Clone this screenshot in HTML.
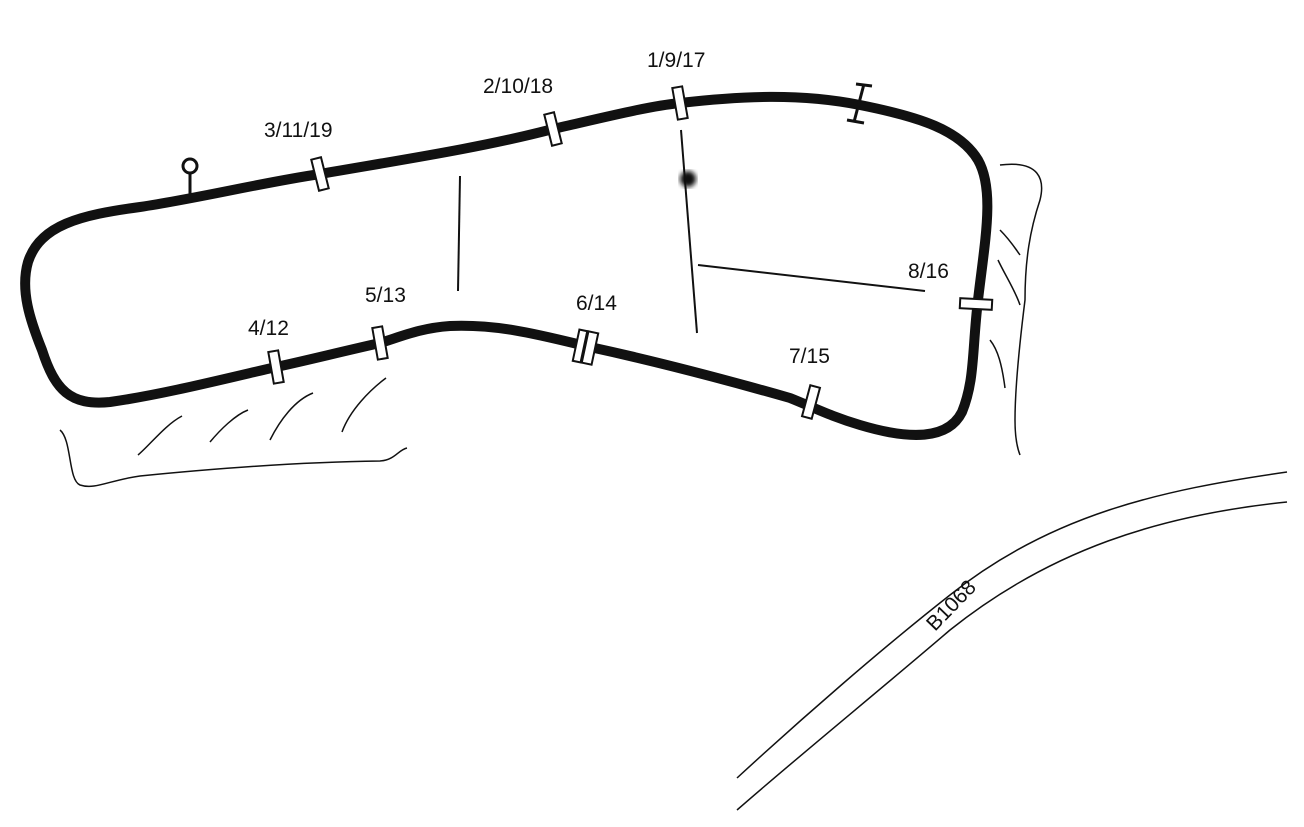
<!DOCTYPE html>
<html><head><meta charset="utf-8"><style>
html,body{margin:0;padding:0;background:#fff;}
svg{display:block;}
text{font-family:"Liberation Sans",sans-serif;font-size:21px;fill:#111;}
</style></head><body>
<svg width="1304" height="827" viewBox="0 0 1304 827" xmlns="http://www.w3.org/2000/svg">
<defs><filter id="b"><feGaussianBlur stdDeviation="2.5"/></filter></defs>
<path d="M28,262 C40,225 80,215 140,207 C200,198 260,183 320,174 C400,160 480,148 553,129 C610,116 650,106 680,103 C740,96 800,93 860,105 C920,117 960,130 978,160 C995,190 985,240 978,300 C972,350 975,380 962,412 C948,440 910,440 860,425 C830,416 815,408 790,398 C720,378 650,360 590,347 C540,335 500,324 450,326 C420,328 400,337 380,343 C340,352 300,362 276,367 C220,380 160,395 110,402 C70,406 55,390 42,350 C30,320 20,290 28,262 Z" fill="none" stroke="#111" stroke-width="10" stroke-linejoin="round"/>
<g stroke="#111" stroke-width="2" fill="none">
<line x1="460" y1="176" x2="458" y2="291"/>
<line x1="681" y1="130" x2="697" y2="333"/>
<line x1="698" y1="265" x2="925" y2="291"/>
</g>
<circle cx="688" cy="179" r="8" fill="#111" filter="url(#b)"/>
<g fill="#fff" stroke="#111" stroke-width="2">
<rect x="-5" y="-16" width="10" height="32" transform="translate(320,174) rotate(-14)"/>
<rect x="-5" y="-16" width="10" height="32" transform="translate(553,129) rotate(-14)"/>
<rect x="-5" y="-16" width="10" height="32" transform="translate(680,103) rotate(-10)"/>
<rect x="-16" y="-5" width="32" height="10" transform="translate(976,304) rotate(3)"/>
<rect x="-5" y="-16" width="10" height="32" transform="translate(811,402) rotate(15)"/>
<rect x="-4" y="-16" width="8" height="32" transform="translate(580,346) rotate(12)"/>
<rect x="-5" y="-16" width="10" height="32" transform="translate(590,348) rotate(12)"/>
<rect x="-5" y="-16" width="10" height="32" transform="translate(380,343) rotate(-10)"/>
<rect x="-5" y="-16" width="10" height="32" transform="translate(276,367) rotate(-10)"/>
</g>
<g stroke="#111" stroke-width="3">
<line x1="864" y1="84" x2="854" y2="122"/>
<line x1="856" y1="84" x2="872" y2="86"/>
<line x1="847" y1="120" x2="864" y2="123"/>
</g>
<line x1="190" y1="172" x2="190" y2="198" stroke="#111" stroke-width="3"/>
<circle cx="190" cy="166" r="7" fill="#fff" stroke="#111" stroke-width="3"/>
<text x="264" y="137">3/11/19</text>
<text x="483" y="93">2/10/18</text>
<text x="647" y="67">1/9/17</text>
<text x="908" y="278">8/16</text>
<text x="789" y="363">7/15</text>
<text x="576" y="310">6/14</text>
<text x="365" y="302">5/13</text>
<text x="248" y="335">4/12</text>
<g stroke="#111" stroke-width="1.5" fill="none">
<path d="M60,430 C72,440 68,480 80,485 C95,490 110,480 140,476 C220,468 300,462 380,461 C395,460 398,450 407,448"/>
<path d="M138,455 C150,445 165,425 182,416"/>
<path d="M210,442 C220,430 235,415 248,410"/>
<path d="M270,440 C280,420 295,400 313,393"/>
<path d="M342,432 C350,410 370,390 386,378"/>
<path d="M1000,165 C1040,160 1045,180 1040,200 C1030,230 1025,260 1025,300 C1020,340 1015,390 1015,420 C1015,440 1018,450 1020,455"/>
<path d="M1000,230 C1010,240 1015,248 1020,255"/>
<path d="M998,260 C1005,275 1015,290 1020,305"/>
<path d="M990,340 C998,350 1002,365 1005,388"/>
<path d="M737,778 C800,720 880,650 950,595 C1050,515 1160,490 1287,472"/>
<path d="M737,810 C800,755 880,690 950,630 C1050,550 1160,515 1287,502"/>
</g>
<text x="0" y="0" transform="translate(935,632) rotate(-46)">B1068</text>
</svg>
</body></html>
